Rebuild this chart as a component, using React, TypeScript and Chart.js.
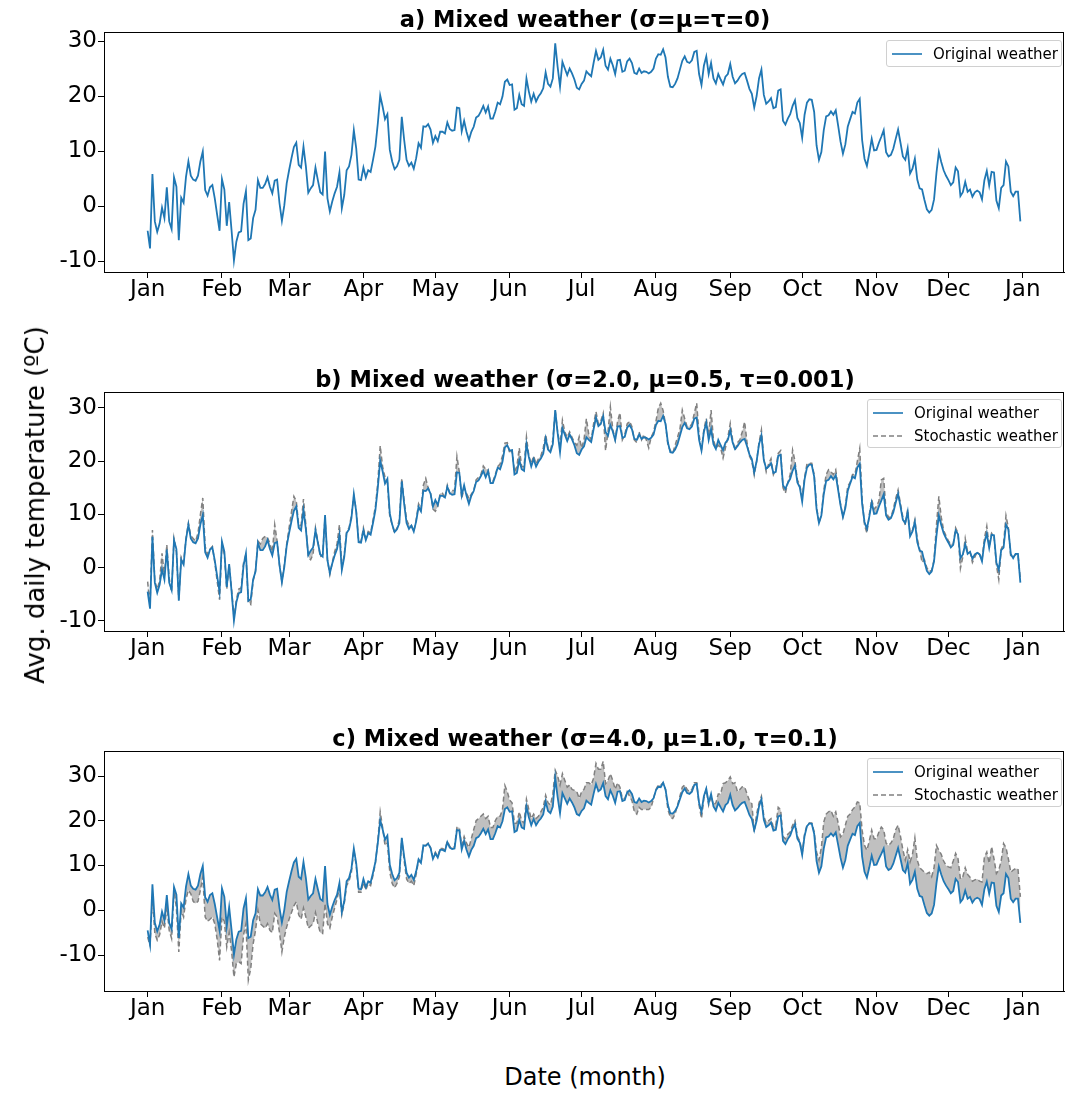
import React, { useEffect, useRef } from 'react';
import { Chart, registerables } from 'chart.js';

Chart.register(...registerables);

// Day-of-year tick positions and labels (month starts)
const MONTH_TICKS = [0, 31, 59, 90, 120, 151, 181, 212, 243, 273, 304, 334, 365];
const MONTH_LABELS = ['Jan', 'Feb', 'Mar', 'Apr', 'May', 'Jun', 'Jul', 'Aug', 'Sep', 'Oct', 'Nov', 'Dec', 'Jan'];
const Y_TICKS = [-10, 0, 10, 20, 30];
const Y_TICK_LABELS = ['-10', '0', '10', '20', '30'];

// Average daily temperature, original weather (one value per day)
const ORIGINAL_WEATHER = [
  -4.5, -7.7, 5.8, -2.8, -4.7, -3.2, -0.3, -2.2, 3.4, -2.8,
  -4.2, 5.2, 3.5, -6.2, 1.5, 0.6, 5.3, 8.1, 5.5, 4.8,
  4.6, 5.5, 8.1, 9.9, 2.9, 1.9, 3.4, 3.8, 1.4, -1.6,
  -4.5, 4.9, 3.0, -3.6, 0.7, -4.4, -9.9, -6.5, -4.8, -4.6,
  0.4, 2.7, -6.2, -5.9, -2.2, -0.7, 4.7, 3.3, 3.3, 4.0,
  5.2, 3.5, 2.3, 4.6, 4.8, 0.5, -2.7, 0.1, 4.1, 6.5,
  8.7, 10.7, 11.5, 7.5, 7.0, 10.8, 7.2, 2.4, 3.2, 3.8,
  7.0, 4.7, 2.5, 2.1, 9.9, 1.4, -1.0, 0.8, 2.3, 3.5,
  6.1, -0.4, 2.0, 6.5, 7.2, 9.3, 13.8, 10.5, 4.8, 4.7,
  7.0, 5.2, 6.5, 6.2, 8.4, 10.8, 15.0, 20.1, 18.1, 15.8,
  16.7, 10.2, 8.1, 6.7, 7.2, 8.4, 16.2, 12.0, 8.4, 7.3,
  7.9, 6.8, 8.7, 11.4, 10.6, 14.5, 14.4, 14.9, 13.9, 11.5,
  12.7, 11.8, 13.5, 13.5, 13.2, 15.2, 14.0, 13.7, 13.8, 17.9,
  17.8, 13.6, 15.5, 13.5, 12.0, 13.5, 14.4, 16.1, 16.4, 17.2,
  18.2, 17.0, 18.1, 15.9, 15.9, 17.2, 18.8, 18.5, 19.9, 22.6,
  23.0, 22.0, 22.1, 17.5, 17.8, 20.2, 18.5, 18.2, 23.2, 20.8,
  19.0, 20.4, 19.0, 19.9, 20.5, 21.4, 24.3, 22.2, 21.7, 23.2,
  29.6, 25.3, 21.7, 26.2, 25.0, 23.8, 25.0, 24.1, 23.0, 21.5,
  21.2, 22.2, 22.8, 24.5, 24.0, 23.6, 26.0, 28.2, 26.6, 27.0,
  28.4, 25.5, 24.8, 26.8, 25.6, 24.0, 26.5, 26.6, 24.4, 24.6,
  26.3, 26.8, 26.0, 24.2, 24.0, 25.0, 24.2, 24.5, 24.4, 24.1,
  24.4, 25.0, 26.8, 27.6, 27.5, 28.5, 27.0, 23.5, 21.7, 21.6,
  22.2, 23.2, 24.8, 26.4, 27.2, 26.2, 26.0, 26.5, 28.0, 28.2,
  24.0, 22.0, 25.5, 27.2, 24.0, 26.0, 23.2, 22.3, 24.0, 23.0,
  22.1, 23.5, 24.0, 25.8, 23.5, 22.3, 22.8, 23.5, 24.0, 24.2,
  22.8, 21.3, 20.4, 17.9, 20.0, 23.2, 24.8, 20.2, 18.6, 19.0,
  19.6, 17.8, 18.0, 21.0, 21.2, 15.5, 14.8, 15.9, 16.7, 18.2,
  19.2, 16.0, 15.1, 12.4, 16.6, 18.8, 19.4, 19.3, 17.1, 11.0,
  8.4, 9.8, 13.8, 16.3, 16.5, 17.2, 16.6, 17.4, 14.6, 11.7,
  9.5, 11.2, 14.4, 15.8, 17.1, 16.8, 18.8, 19.5, 12.0, 8.6,
  7.3, 9.6, 12.2, 10.1, 10.2, 11.5, 12.6, 13.8, 9.8, 9.0,
  9.3, 10.4, 12.2, 13.9, 11.5, 9.0, 8.4, 10.5, 5.9, 6.8,
  8.6, 4.8, 3.2, 3.0, 1.1, -0.6, -1.2, -0.7, 1.2, 6.0,
  9.8, 8.0, 6.5, 5.5, 4.7, 3.8, 4.3, 7.0, 6.3, 1.8,
  2.5, 4.4, 2.6, 3.0, 1.7, 2.5, 2.8, 2.5, 1.2, 4.7,
  6.4, 3.7, 6.2, 6.1, 1.0, -0.4, 3.3, 3.8, 8.1, 7.2,
  2.6, 1.8, 2.6, 2.6, -2.8,
];

// Stochastic weather, panel b (sigma=2.0, mu=0.5, tau=0.001)
const STOCHASTIC_B = [
  -2.6, -7.0, 7.1, -2.5, -4.0, -2.5, 2.7, -1.5, 4.3, -2.0,
  -4.5, 5.5, 3.0, -6.0, 2.0, 1.0, 5.5, 8.4, 6.0, 5.5,
  5.0, 6.5, 10.0, 13.1, 4.0, 2.5, 3.5, 4.0, 1.0, -2.5,
  -6.0, 4.5, 2.5, -4.0, 0.5, -4.0, -9.3, -6.0, -4.0, -3.8,
  1.0, 2.5, -6.5, -6.9, -2.5, -0.5, 5.0, 4.5, 5.5, 5.9,
  5.7, 4.5, 3.0, 8.1, 5.0, 0.5, -2.6, 0.5, 4.5, 7.5,
  10.5, 13.4, 12.5, 8.0, 8.0, 12.9, 8.0, 2.0, 1.5, 2.5,
  7.5, 5.0, 2.0, 2.5, 9.5, 1.5, -1.3, 1.0, 3.0, 4.5,
  8.1, 0.0, 2.5, 6.8, 7.5, 9.8, 13.5, 10.8, 4.9, 5.0,
  7.5, 5.5, 6.8, 6.5, 9.0, 11.5, 16.0, 22.9, 19.0, 17.0,
  16.0, 9.5, 8.1, 6.5, 7.5, 9.0, 16.8, 12.5, 9.0, 8.0,
  8.0, 6.8, 9.0, 12.0, 11.0, 15.5, 16.8, 15.0, 14.0, 11.0,
  10.6, 11.5, 14.0, 14.0, 13.0, 15.5, 14.0, 14.5, 14.5, 20.9,
  18.0, 13.0, 15.0, 14.0, 13.0, 13.8, 14.5, 16.5, 17.0, 17.5,
  19.1, 18.5, 18.5, 16.0, 16.2, 17.5, 19.0, 19.5, 21.0, 23.4,
  23.5, 21.5, 22.0, 18.0, 19.0, 22.5, 19.0, 19.0, 24.6, 21.0,
  19.5, 21.0, 19.5, 20.5, 21.0, 22.5, 25.0, 22.5, 22.0, 24.0,
  29.5, 25.5, 23.0, 27.7, 25.5, 24.5, 25.5, 24.5, 23.5, 23.0,
  24.6, 22.5, 24.0, 28.0, 25.0, 24.0, 27.0, 29.3, 27.0, 27.5,
  29.0, 22.0, 25.5, 30.2, 26.0, 24.0, 27.5, 29.1, 24.0, 25.0,
  27.0, 27.5, 26.5, 24.0, 23.5, 25.5, 24.0, 25.0, 24.0, 22.5,
  24.5, 25.5, 27.5, 30.0, 30.9, 29.5, 27.0, 23.0, 22.0, 21.5,
  23.0, 24.5, 26.0, 29.6, 28.0, 26.5, 26.5, 27.0, 29.0, 30.9,
  25.0, 22.0, 26.0, 28.0, 25.0, 29.6, 24.0, 22.5, 23.0, 22.5,
  20.6, 22.5, 24.5, 27.1, 24.0, 22.0, 23.5, 24.0, 25.5, 27.4,
  23.5, 21.0, 20.0, 17.4, 20.0, 23.5, 25.9, 20.5, 18.0, 19.5,
  20.5, 17.5, 18.5, 21.5, 22.0, 15.0, 14.0, 16.0, 17.5, 22.1,
  20.0, 16.5, 15.5, 13.3, 17.0, 19.5, 19.6, 19.6, 17.5, 11.5,
  8.4, 10.0, 14.5, 17.5, 18.4, 18.0, 17.5, 18.4, 15.0, 12.0,
  9.6, 11.5, 15.3, 16.0, 17.5, 17.5, 20.0, 22.4, 13.0, 8.0,
  6.5, 10.0, 12.8, 11.0, 11.5, 12.5, 16.5, 16.8, 10.5, 9.5,
  9.5, 11.0, 13.0, 14.6, 12.0, 9.5, 8.0, 11.0, 6.5, 7.0,
  9.0, 5.5, 3.5, 1.0, 1.5, 0.0, -0.7, -0.5, 1.5, 8.0,
  13.4, 9.5, 7.0, 6.0, 5.0, 4.5, 4.5, 7.5, 6.5, -0.1,
  2.0, 5.5, 3.0, 3.0, 1.0, 2.0, 3.0, 2.5, 1.5, 5.5,
  7.8, 4.0, 6.5, 6.0, 0.5, -2.2, 3.5, 4.5, 9.8, 7.5,
  2.0, 2.0, 2.5, 2.5, -2.2,
];

// Stochastic weather, panel c (sigma=4.0, mu=1.0, tau=0.1)
const STOCHASTIC_C = [
  -6.0, -7.8, 3.0, -5.2, -6.7, -5.5, -2.5, -4.0, 0.7, -4.5,
  -6.3, 4.5, 0.5, -9.3, 0.0, -1.5, 2.5, 4.5, 3.7, 2.0,
  1.5, 2.0, 4.5, 7.4, -1.5, -2.5, -2.0, -1.5, -3.0, -6.5,
  -11.2, -1.5, -2.5, -8.2, -5.0, -9.0, -14.9, -11.9, -11.5, -11.9,
  -5.5, -3.0, -15.6, -13.0, -7.5, -4.5, 0.0, -3.0, -3.5, -4.0,
  -3.0, -4.5, -5.0, -0.7, -1.5, -5.0, -9.3, -6.0, -3.7, -2.0,
  -0.5, 1.0, 1.9, -1.0, -2.0, 0.5, -1.5, -4.0, -3.5, -3.0,
  -0.5, -3.0, -5.0, -5.2, 1.5, -3.0, -4.0, -1.5, 0.5, 2.5,
  5.0, -1.0, 1.5, 5.5, 6.5, 8.5, 13.5, 10.0, 4.0, 4.0,
  6.3, 4.5, 6.0, 5.5, 7.8, 10.5, 15.5, 22.0, 18.5, 14.5,
  15.0, 8.5, 6.0, 5.0, 6.0, 7.5, 16.0, 11.0, 7.0, 6.0,
  6.5, 5.5, 8.0, 11.2, 10.5, 14.5, 14.5, 15.0, 14.0, 11.8,
  13.0, 12.0, 13.8, 13.8, 13.5, 15.5, 14.3, 14.0, 14.2, 18.5,
  18.5, 14.5, 16.5, 15.0, 14.0, 16.0, 18.0, 20.0, 20.5, 21.0,
  21.5, 20.5, 21.0, 18.5, 18.5, 20.0, 21.0, 21.0, 22.5, 27.9,
  26.5, 24.6, 24.0, 19.4, 19.5, 22.0, 20.0, 19.5, 24.8, 22.5,
  20.5, 21.5, 20.5, 21.0, 22.0, 23.0, 25.7, 24.0, 23.5, 26.0,
  31.3, 30.0, 28.0, 30.5, 29.0, 27.5, 28.0, 27.0, 26.8, 26.5,
  25.0, 26.5, 27.0, 28.5, 28.5, 28.0, 29.5, 32.8, 31.5, 31.5,
  33.3, 28.3, 29.0, 30.5, 29.0, 27.0, 28.5, 27.5, 25.0, 25.0,
  26.5, 25.5, 24.5, 22.0, 21.5, 23.0, 22.5, 22.5, 22.5, 22.5,
  23.0, 25.0, 27.0, 28.0, 28.0, 28.5, 27.0, 22.5, 20.8, 20.5,
  21.5, 23.5, 25.5, 27.5, 28.0, 27.0, 26.5, 27.0, 28.5, 28.5,
  23.5, 20.5, 25.0, 27.0, 23.5, 25.5, 23.5, 24.0, 26.0, 26.0,
  28.3, 28.5, 29.0, 29.8, 28.3, 28.5, 26.5, 27.0, 27.6, 27.5,
  26.0, 24.5, 23.8, 17.5, 21.5, 24.0, 25.5, 21.0, 19.5, 20.0,
  20.5, 18.5, 19.0, 23.0, 22.5, 16.5, 16.0, 17.0, 17.5, 19.0,
  20.0, 16.5, 15.5, 12.8, 17.0, 19.0, 19.5, 19.5, 17.5, 13.0,
  11.2, 14.0, 19.7, 21.5, 22.0, 22.3, 21.0, 22.0, 19.5, 16.4,
  17.0, 19.0, 21.0, 21.5, 22.5, 23.1, 24.2, 24.0, 17.9, 14.5,
  13.4, 15.5, 17.9, 16.0, 16.0, 17.5, 18.6, 18.0, 15.0, 14.5,
  15.0, 16.0, 18.0, 19.0, 16.5, 13.5, 11.2, 13.5, 10.8, 12.5,
  16.2, 11.2, 9.5, 9.0, 8.5, 8.2, 8.5, 7.5, 9.5, 14.5,
  13.4, 12.5, 11.0, 10.0, 9.7, 9.5, 11.0, 12.7, 11.5, 7.0,
  7.5, 9.5, 8.0, 7.4, 6.5, 6.8, 7.0, 6.5, 6.3, 11.9,
  13.0, 10.5, 14.2, 11.5, 8.2, 9.0, 11.0, 14.9, 14.0, 11.5,
  8.5, 9.0, 9.3, 9.3, 3.0,
];

const FONT = 'DejaVu Sans';
const BLUE = '#1f77b4';
const GREY = '#808080';
const FILL = '#c0c0c0';

type PanelSpec = {
  title: string;
  top: number;
  height: number;
  padTop: number;
  xAxisH: number;
  yMin: number;
  yMax: number;
  stochastic: number[] | null;
  legend: { left: number; top: number; width: number; height: number };
};

const PANELS: PanelSpec[] = [
  { title: 'a) Mixed weather (σ=μ=τ=0)', top: 0, height: 310, padTop: 32, xAxisH: 38, yMin: -12.0, yMax: 31.64, stochastic: null,
    legend: { left: 886, top: 40, width: 176, height: 27 } },
  { title: 'b) Mixed weather (σ=2.0, μ=0.5, τ=0.001)', top: 360, height: 310, padTop: 32, xAxisH: 39, yMin: -11.88, yMax: 33.0, stochastic: STOCHASTIC_B,
    legend: { left: 867, top: 399, width: 195, height: 49 } },
  { title: 'c) Mixed weather (σ=4.0, μ=1.0, τ=0.1)', top: 720, height: 310, padTop: 31, xAxisH: 39, yMin: -18.04, yMax: 35.59, stochastic: STOCHASTIC_C,
    legend: { left: 867, top: 758, width: 195, height: 49 } },
];

const framePlugin = {
  id: 'frame',
  afterDraw(chart: any) {
    const { ctx, chartArea } = chart;
    ctx.save();
    ctx.strokeStyle = '#000';
    ctx.lineWidth = 1;
    ctx.strokeRect(Math.round(chartArea.left) + 0.5, Math.round(chartArea.top) + 0.5,
      Math.round(chartArea.right - chartArea.left) - 1, Math.round(chartArea.bottom - chartArea.top));
    ctx.restore();
  },
};

function Panel({ spec }: { spec: PanelSpec }) {
  const ref = useRef<HTMLCanvasElement>(null);
  useEffect(() => {
    const canvas = ref.current;
    if (!canvas) return;
    const datasets: any[] = [
      {
        label: 'Original weather',
        data: ORIGINAL_WEATHER.map((y, i) => ({ x: i, y })),
        borderColor: BLUE,
        borderWidth: 1.8,
        pointRadius: 0,
        tension: 0,
        fill: false,
        order: 0,
      },
    ];
    if (spec.stochastic) {
      datasets.push({
        label: 'Stochastic weather',
        data: spec.stochastic.map((y, i) => ({ x: i, y })),
        borderColor: GREY,
        borderWidth: 1.5,
        borderDash: [5, 3],
        pointRadius: 0,
        tension: 0,
        backgroundColor: FILL,
        fill: { target: 0, above: FILL, below: FILL },
        order: 1,
      });
    }
    const chart = new Chart(canvas, {
      type: 'line',
      data: { datasets },
      plugins: [framePlugin],
      options: {
        animation: false,
        responsive: false,
        maintainAspectRatio: false,
        layout: { padding: { top: spec.padTop, right: 1, left: 0, bottom: 0 } },
        plugins: {
          legend: { display: false },
          tooltip: { enabled: false },
          title: { display: false },
          filler: { drawTime: 'beforeDatasetsDraw' },
        } as any,
        scales: {
          x: {
            type: 'linear',
            min: -18.2,
            max: 382.2,
            afterFit: (s: any) => { s.height = spec.xAxisH; },
            afterBuildTicks: (s: any) => { s.ticks = MONTH_TICKS.map((v) => ({ value: v })); },
            ticks: {
              callback: (v: any) => MONTH_LABELS[MONTH_TICKS.indexOf(Number(v))] ?? '',
              font: { family: FONT, size: 23 },
              color: '#000',
              padding: -2,
              maxRotation: 0,
              autoSkip: false,
            },
            grid: { drawOnChartArea: false, drawTicks: true, tickLength: 6, color: '#000' },
            border: { display: true, color: '#000' },
          },
          y: {
            type: 'linear',
            min: spec.yMin,
            max: spec.yMax,
            afterFit: (s: any) => { s.width = 104; },
            afterBuildTicks: (s: any) => { s.ticks = Y_TICKS.map((v) => ({ value: v })); },
            ticks: {
              callback: (v: any) => Y_TICK_LABELS[Y_TICKS.indexOf(Number(v))] ?? '',
              font: { family: FONT, size: 23 },
              color: '#000',
              padding: 1,
              autoSkip: false,
            },
            grid: { drawOnChartArea: false, drawTicks: true, tickLength: 6, color: '#000' },
            border: { display: true, color: '#000' },
          },
        },
      } as any,
    });
    return () => chart.destroy();
  }, [spec]);

  const entries = [{ label: 'Original weather', color: BLUE, dash: '' }];
  if (spec.stochastic) entries.push({ label: 'Stochastic weather', color: GREY, dash: '5,3' });

  return (
    <>
      <canvas
        ref={ref}
        width={1065}
        height={spec.height}
        style={{ position: 'absolute', left: 0, top: spec.top, width: 1065, height: spec.height }}
      />
      <div
        style={{
          position: 'absolute', left: 0, width: 1170, top: spec.top + spec.padTop - 26,
          textAlign: 'center', fontFamily: FONT, fontWeight: 'bold', fontSize: 22.5, lineHeight: '26px', color: '#000',
          whiteSpace: 'nowrap',
        }}
      >
        {spec.title}
      </div>
      <div
        style={{
          position: 'absolute', left: spec.legend.left, top: spec.legend.top,
          width: spec.legend.width, height: spec.legend.height, boxSizing: 'border-box',
          border: '1px solid #d0d0d0', borderRadius: 3, background: 'rgba(255,255,255,0.85)',
          fontFamily: FONT, fontSize: 15, color: '#000', paddingTop: 1, whiteSpace: 'nowrap',
        }}
      >
        {entries.map((e) => (
          <div key={e.label} style={{ display: 'flex', alignItems: 'center', height: 23, paddingLeft: 5, whiteSpace: 'nowrap' }}>
            <svg width={30} height={6} style={{ marginRight: 11, flex: 'none' }}>
              <line x1={0} y1={3} x2={30} y2={3} stroke={e.color} strokeWidth={1.6} strokeDasharray={e.dash || undefined} />
            </svg>
            <span>{e.label}</span>
          </div>
        ))}
      </div>
    </>
  );
}

export default function App() {
  return (
    <div style={{ position: 'fixed', left: 0, top: 0, width: 1065, height: 1093, background: '#fff', overflow: 'hidden' }}>
      {PANELS.map((p) => (
        <Panel key={p.title} spec={p} />
      ))}
      <div
        style={{
          position: 'absolute', left: 35, top: 505, transform: 'translate(-50%, -50%) rotate(-90deg)',
          whiteSpace: 'nowrap', fontFamily: FONT, fontSize: 26, color: '#000',
        }}
      >
        Avg. daily temperature (ºC)
      </div>
      <div
        style={{
          position: 'absolute', left: 0, width: 1170, top: 1063, textAlign: 'center',
          fontFamily: FONT, fontSize: 24, color: '#000',
        }}
      >
        Date (month)
      </div>
    </div>
  );
}
